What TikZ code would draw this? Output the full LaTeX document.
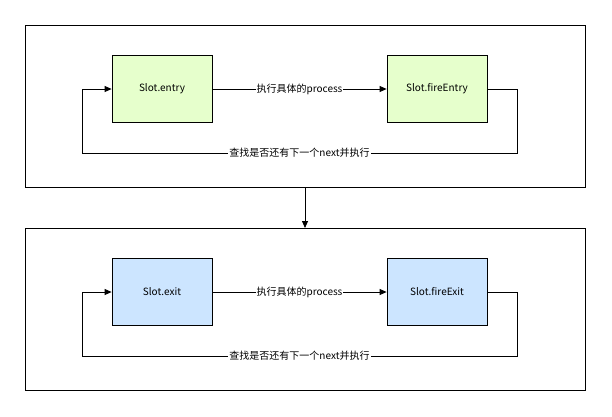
\documentclass[tikz,border=0pt]{standalone}
\usepackage{fontspec}
\setmainfont{Noto Sans CJK SC}
\usetikzlibrary{positioning, arrows.meta}
\definecolor{entryGreen}{HTML}{E6FFCC}
\definecolor{exitBlue}{HTML}{CCE5FF}
\tikzset{
	frameBox/.style={
		draw=black, line width=1pt
	},
	slotNode/.style={
		draw=black, line width=0.8pt,
		minimum width=100pt, minimum height=67pt,
		font=\fontsize{10}{11}\selectfont
	},
	flowArr/.style={
		draw=black, line width=0.8pt, -{Triangle[length=7pt,width=6pt]}
	},
	flowText/.style={
		fill=white, inner sep=1pt,
		font=\fontsize{10}{11}\selectfont
	},
}
\begin{document}
\begin{tikzpicture}[x=1pt, y=-1pt]
\useasboundingbox (0,0) rectangle (612,416);
% upper stage
\draw[frameBox] (25,25) rectangle (585,187);
\node[slotNode, fill=entryGreen] (entry) at (162,89) {Slot.entry};
\node[slotNode, fill=entryGreen] (fireEntry) at (437,89) {Slot.fireEntry};
\draw[flowArr] (entry) -- node[flowText] {执行具体的process} (fireEntry);
\coordinate (eR) at (517,89);
\coordinate (eL) at (82,89);
\draw[flowArr] (fireEntry.east) -- (eR) -- (517,153) -- node[flowText] {查找是否还有下一个next并执行} (82,153) -- (eL) -- (entry.west);
% lower stage
\draw[frameBox] (25,228) rectangle (585,390);
\node[slotNode, fill=exitBlue] (exit) at (162,292) {Slot.exit};
\node[slotNode, fill=exitBlue] (fireExit) at (437,292) {Slot.fireExit};
\draw[flowArr] (exit) -- node[flowText] {执行具体的process} (fireExit);
\coordinate (xR) at (517,292);
\coordinate (xL) at (82,292);
\draw[flowArr] (fireExit.east) -- (xR) -- (517,356) -- node[flowText] {查找是否还有下一个next并执行} (82,356) -- (xL) -- (exit.west);
% between stages
\coordinate (top) at (305,187);
\coordinate (bot) at (305,228);
\draw[flowArr] (top) -- (bot);
\end{tikzpicture}
\end{document}
